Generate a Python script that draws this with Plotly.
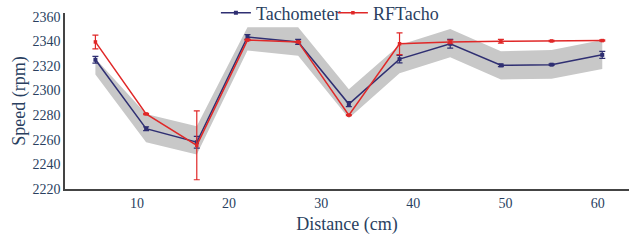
import plotly.graph_objects as go

distance = [5.5, 11, 16.5, 22, 27.5, 33, 38.5, 44, 49.5, 55, 60.5]

tacho = [2325, 2269, 2258, 2343.5, 2339.5, 2289, 2325.5, 2338, 2320.5, 2321, 2329]
tacho_err = [2.7, 1.5, 4.8, 2, 2, 2, 3, 3.5, 1, 0.6, 2.8]

rf = [2339.5, 2281, 2255.5, 2341, 2339.5, 2280, 2338, 2339.5, 2340, 2340.3, 2340.6]
rf_err = [5.6, 0.5, 28, 0.5, 0.5, 0.5, 8.8, 1.5, 1.5, 0.5, 0.5]

band_upper = [2326, 2281, 2271, 2351.5, 2351.5, 2301, 2337, 2350, 2332, 2333, 2341]
band_lower = [2313, 2258, 2248, 2332.5, 2328.3, 2277.5, 2314, 2327, 2309, 2309.5, 2317.5]

NAVY = "#2f2f72"
RED = "#e02828"
BAND = "#c8c8c8"
TXT = "#2a3f5f"
SERIF = "Times New Roman"

fig = go.Figure()

fig.add_trace(go.Scatter(
    x=distance + distance[::-1],
    y=band_upper + band_lower[::-1],
    fill="toself", fillcolor=BAND, line=dict(width=0),
    mode="lines", showlegend=False, hoverinfo="skip",
))

fig.add_trace(go.Scatter(
    x=distance, y=tacho, name="Tachometer", mode="lines+markers",
    line=dict(color=NAVY, width=1.5),
    marker=dict(symbol="square", size=4, color=NAVY),
    error_y=dict(type="data", array=tacho_err, color=NAVY, thickness=1.2, width=3),
))

fig.add_trace(go.Scatter(
    x=distance, y=rf, name="RFTacho", mode="lines+markers",
    line=dict(color=RED, width=1.5),
    marker=dict(symbol="square", size=3.5, color=RED),
    error_y=dict(type="data", array=rf_err, color=RED, thickness=1.2, width=3),
))

fig.update_layout(
    width=629, height=242,
    margin=dict(l=65, r=0, t=13, b=53, autoexpand=False),
    paper_bgcolor="white", plot_bgcolor="white",
    font=dict(color=TXT, size=14),
    legend=dict(orientation="h", x=0.475, xanchor="center", y=1.0, yanchor="middle",
                font=dict(size=18, family=SERIF, color=TXT), bgcolor="rgba(255,255,255,0)",
                itemwidth=30, entrywidth=72),
    showlegend=True,
)

fig.update_xaxes(
    range=[2.2, 63.4], tickvals=[10, 20, 30, 40, 50, 60],
    showgrid=False, zeroline=False, showline=True, linecolor="#444", linewidth=1.5,
    title=dict(text="Distance (cm)", font=dict(size=18, family=SERIF, color=TXT), standoff=8),
    tickfont=dict(size=14, family=SERIF, color=TXT), automargin=False,
)
fig.update_yaxes(
    range=[2220, 2363], tickvals=[2220, 2240, 2260, 2280, 2300, 2320, 2340, 2360],
    showgrid=False, zeroline=False, showline=True, linecolor="#444", linewidth=1.5,
    title=dict(text="Speed (rpm)", font=dict(size=18, family=SERIF, color=TXT), standoff=2),
    tickfont=dict(size=14, family=SERIF, color=TXT), automargin=False,
)

fig.write_html("out.html", config={"displayModeBar": False},
               post_script="document.body.style.margin='0';")
